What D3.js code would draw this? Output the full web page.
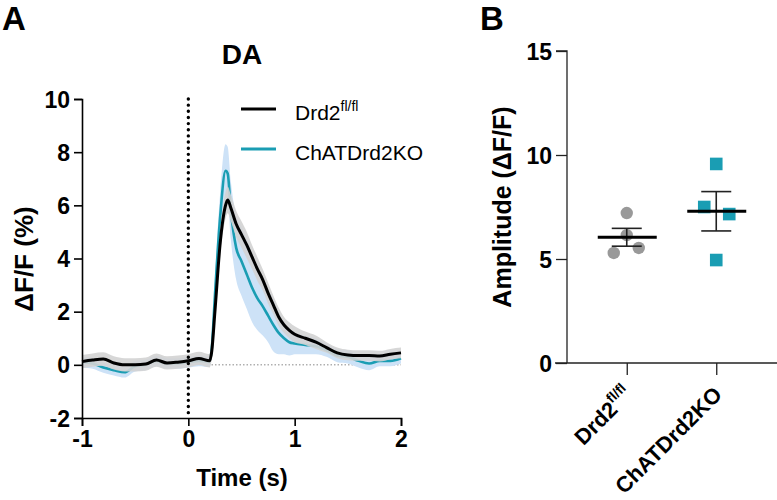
<!DOCTYPE html>
<html><head><meta charset="utf-8">
<script src="https://cdn.jsdelivr.net/npm/d3@7"></script>
<style>
html,body{margin:0;padding:0;background:#fff;}
svg{display:block;font-family:"Liberation Sans",Arial,Helvetica,sans-serif;}
</style></head>
<body><svg id="c" width="777" height="500"></svg>
<script>
// ---------- data ----------
const time = [-1,-0.9,-0.8,-0.7,-0.6,-0.5,-0.4,-0.3,-0.2,-0.1,0,0.1,0.2,0.22,0.25,0.3,0.35,0.37,0.4,0.45,0.5,0.55,0.6,0.65,0.7,0.75,0.8,0.85,0.9,0.95,1.0,1.1,1.2,1.3,1.4,1.5,1.6,1.7,1.8,1.9,2.0];
const drdMean = [0.12,0.18,0.22,0.07,0.0,0.0,0.03,0.18,0.07,0.1,0.15,0.24,0.15,0.5,2.0,4.6,6.0,6.2,5.9,5.3,4.9,4.5,4.05,3.6,3.2,2.7,2.25,1.8,1.5,1.3,1.15,1.0,0.85,0.65,0.45,0.37,0.35,0.35,0.33,0.4,0.45];
const drdSem = [0.25,0.25,0.25,0.25,0.25,0.25,0.25,0.25,0.25,0.25,0.25,0.25,0.25,0.3,0.4,0.45,0.5,0.5,0.5,0.5,0.5,0.5,0.45,0.45,0.4,0.4,0.35,0.35,0.3,0.3,0.3,0.25,0.25,0.2,0.2,0.2,0.2,0.2,0.2,0.2,0.2];
const chatMean = [0.1,0.05,-0.1,-0.2,-0.28,-0.05,0.0,0.15,0.05,0.05,0.1,0.15,0.12,0.6,2.6,5.6,7.3,7.2,5.8,4.4,3.9,3.4,2.9,2.5,2.2,1.85,1.5,1.2,1.0,0.85,0.8,0.75,0.7,0.55,0.35,0.3,0.15,0.05,0.15,0.15,0.25];
const chatSem = [0.2,0.2,0.2,0.2,0.2,0.2,0.2,0.2,0.2,0.2,0.2,0.2,0.2,0.25,0.6,0.9,1.0,1.0,1.1,1.2,1.3,1.3,1.3,1.2,1.1,1.0,1.0,0.8,0.6,0.5,0.4,0.35,0.3,0.25,0.25,0.25,0.25,0.25,0.2,0.2,0.2];
const seriesNames = ["Drd2", "ChATDrd2KO"];
const seriesSup = ["fl/fl", ""];
const xTicksA = [-1, 0, 1, 2];
const yTicksA = [-2, 0, 2, 4, 6, 8, 10];
const drdAmp = [7.21, 6.15, 5.29, 5.53];
const chatAmp = [9.57, 7.5, 7.16, 4.95];
const yTicksB = [0, 5, 10, 15];

// ---------- styles ----------
const BLACK = "#000", TEAL = "#1a9db3", GRAYPT = "#999999";
const GRAYBAND = "#d3d3d3", BLUEBAND = "#cde2f7";
const FONT = "Liberation Sans, Arial, sans-serif";
const fmt = d => String(d).replace("\u2212", "-");
const svg = d3.select("#c");

// ---------- Panel A ----------
const xA = d3.scaleLinear().domain([-1, 2]).range([82, 401]);
const yA = d3.scaleLinear().domain([-2, 10]).range([418, 99]);

svg.append("text").attr("x", 2).attr("y", 30).attr("font-size", 33).attr("font-weight", "bold").text("A");
svg.append("text").attr("x", 242).attr("y", 64).attr("text-anchor", "middle").attr("font-size", 28).attr("font-weight", "bold").text("DA");

const gA = svg.append("g");
gA.append("line").attr("x1", xA(-1)).attr("x2", xA(2)).attr("y1", yA(0)).attr("y2", yA(0))
  .attr("stroke", "#888").attr("stroke-width", 1).attr("stroke-dasharray", "1.5,2");

const pts = time.map((t, i) => ({t, dm: drdMean[i], ds: drdSem[i], cm: chatMean[i], cs: chatSem[i]}));
const curve = d3.curveMonotoneX;
const areaC = d3.area().x(d => xA(d.t)).y0(d => yA(d.cm - d.cs)).y1(d => yA(d.cm + d.cs)).curve(curve);
const areaD = d3.area().x(d => xA(d.t)).y0(d => yA(d.dm - d.ds)).y1(d => yA(d.dm + d.ds)).curve(curve);
const lineC = d3.line().x(d => xA(d.t)).y(d => yA(d.cm)).curve(curve);
const lineD = d3.line().x(d => xA(d.t)).y(d => yA(d.dm)).curve(curve);

gA.append("path").datum(pts).attr("d", areaC).attr("fill", BLUEBAND);
gA.append("path").datum(pts).attr("d", lineC).attr("fill", "none").attr("stroke", TEAL).attr("stroke-width", 2.6);
gA.append("path").datum(pts).attr("d", areaD).attr("fill", GRAYBAND).attr("fill-opacity", 0.9);
gA.append("path").datum(pts).attr("d", lineD).attr("fill", "none").attr("stroke", BLACK).attr("stroke-width", 3);

gA.append("line").attr("x1", xA(0)).attr("x2", xA(0)).attr("y1", yA(10)).attr("y2", yA(-2))
  .attr("stroke", BLACK).attr("stroke-width", 3.4).attr("stroke-linecap", "round").attr("stroke-dasharray", "0,6.15");

const axYA = d3.axisLeft(yA).tickValues(yTicksA).tickSize(8).tickPadding(4).tickFormat(fmt);
const axXA = d3.axisBottom(xA).tickValues(xTicksA).tickSize(8).tickPadding(5).tickFormat(fmt);
const gyA = gA.append("g").attr("transform", `translate(${xA(-1)},0)`).call(axYA);
const gxA = gA.append("g").attr("transform", `translate(0,${yA(-2)})`).call(axXA);
[gyA, gxA].forEach(g => {
  g.attr("font-size", 23).attr("font-family", FONT).attr("font-weight", "bold");
  g.select(".domain").attr("stroke", BLACK).attr("stroke-width", 1.6);
  g.selectAll(".tick line").attr("stroke", BLACK).attr("stroke-width", 1.6);
  g.selectAll(".tick text").attr("fill", BLACK);
});
gyA.selectAll(".tick text").attr("dy", "0.35em");
svg.append("text").attr("transform", "translate(33,259) rotate(-90)").attr("text-anchor", "middle")
  .attr("font-size", 26).attr("font-weight", "bold").text("\u0394F/F (%)");
svg.append("text").attr("x", 242).attr("y", 486).attr("text-anchor", "middle")
  .attr("font-size", 24).attr("font-weight", "bold").text("Time (s)");

// legend
const legColors = [BLACK, TEAL];
const legY = [109, 149];
seriesNames.forEach((n, i) => {
  svg.append("line").attr("x1", 241).attr("x2", 276).attr("y1", legY[i]).attr("y2", legY[i])
    .attr("stroke", legColors[i]).attr("stroke-width", 3);
  const t = svg.append("text").attr("x", 295).attr("y", legY[i] + 11).attr("font-size", 21).text(n);
  if (seriesSup[i]) t.append("tspan").attr("dy", -9).attr("font-size", 14).text(seriesSup[i]);
});

// ---------- Panel B ----------
svg.append("text").attr("x", 480).attr("y", 30).attr("font-size", 33).attr("font-weight", "bold").text("B");
const xB = d3.scalePoint().domain(seriesNames).range([582, 761]).padding(0.5);
const yB = d3.scaleLinear().domain([0, 15]).range([363, 51]);
const gB = svg.append("g");

const axYB = d3.axisLeft(yB).tickValues(yTicksB).tickSize(11).tickPadding(4);
const gyB = gB.append("g").attr("transform", "translate(567,0)").call(axYB);
gyB.select(".domain").attr("d", `M-11,${yB(15)}H0V${yB(0)}`);
const gxB = gB.append("g").attr("transform", `translate(0,${yB(0)})`).call(d3.axisBottom(xB).tickSize(12).tickFormat(""));
gxB.select(".domain").attr("d", "M555,0H777");
[gyB, gxB].forEach(g => {
  g.select(".domain").attr("stroke", "#222").attr("stroke-width", 1.3);
  g.selectAll(".tick line").attr("stroke", "#222").attr("stroke-width", 1.3);
});
gyB.attr("font-size", 23).attr("font-family", FONT).attr("font-weight", "bold");
gyB.selectAll(".tick text").attr("fill", BLACK).attr("dy", "0.35em");

svg.append("text").attr("transform", "translate(511,207) rotate(-90)").attr("text-anchor", "middle")
  .attr("font-size", 25).attr("font-weight", "bold").text("Amplitude (\u0394F/F)");

seriesNames.forEach((n, i) => {
  const t = svg.append("text").attr("transform", `translate(${xB(n) + 7},${396}) rotate(-45)`)
    .attr("text-anchor", "end").attr("font-size", 22).attr("font-weight", "bold").text(n);
  if (seriesSup[i]) t.append("tspan").attr("dy", -10).attr("font-size", 14).text(seriesSup[i]);
});

const jitD = [0, 0, -13, 12], jitC = [0, -12, 13, 0];
drdAmp.forEach((v, i) => {
  gB.append("circle").attr("cx", xB(seriesNames[0]) + jitD[i]).attr("cy", yB(v)).attr("r", 6.2).attr("fill", GRAYPT);
});
chatAmp.forEach((v, i) => {
  gB.append("rect").attr("x", xB(seriesNames[1]) + jitC[i] - 6.3).attr("y", yB(v) - 6.3)
    .attr("width", 12.6).attr("height", 12.6).attr("fill", TEAL);
});

[drdAmp, chatAmp].forEach((arr, i) => {
  const m = d3.mean(arr), se = d3.deviation(arr) / Math.sqrt(arr.length);
  const cx = xB(seriesNames[i]);
  gB.append("line").attr("x1", cx).attr("x2", cx).attr("y1", yB(m + se)).attr("y2", yB(m - se)).attr("stroke", "#222").attr("stroke-width", 1.6);
  [m + se, m - se].forEach(v => gB.append("line").attr("x1", cx - 15).attr("x2", cx + 15).attr("y1", yB(v)).attr("y2", yB(v)).attr("stroke", "#222").attr("stroke-width", 1.6));
  gB.append("line").attr("x1", cx - 29).attr("x2", cx + 30).attr("y1", yB(m)).attr("y2", yB(m)).attr("stroke", BLACK).attr("stroke-width", 3.2);
});
</script></body></html>
